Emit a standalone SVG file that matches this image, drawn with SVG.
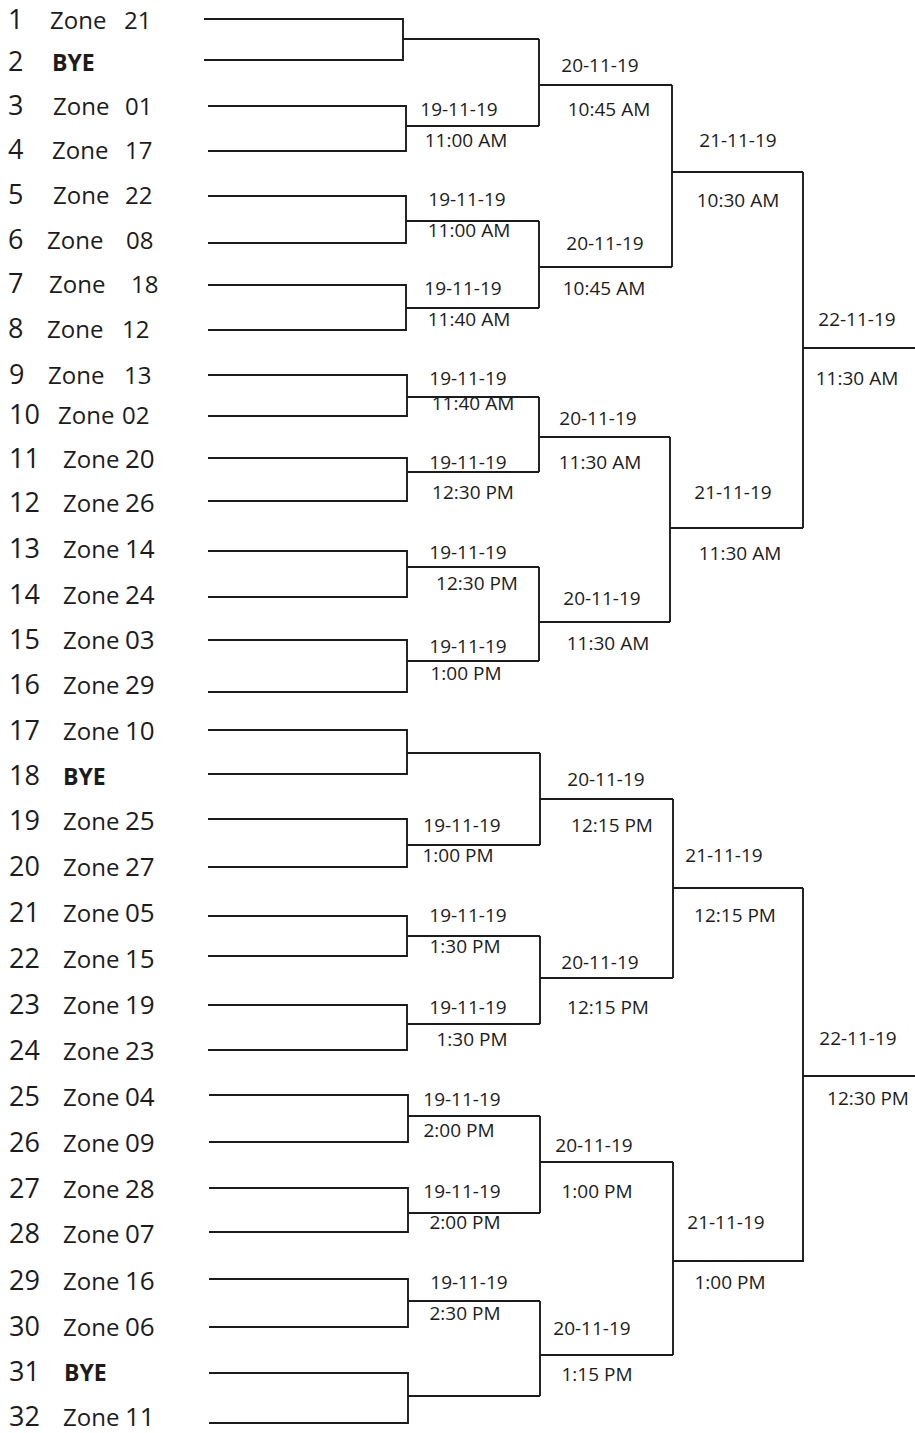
<svg xmlns="http://www.w3.org/2000/svg" width="915" height="1433" viewBox="0 0 915 1433">
<style>
.num{font-family:"Open Sans","Noto Sans",sans-serif;font-size:27px;fill:#1c1c1c}
.zn{font-family:"Open Sans","Noto Sans",sans-serif;font-size:24px;fill:#1c1c1c}
.zb{font-size:26px}
.bye{font-family:"Open Sans","Noto Sans",sans-serif;font-size:23px;font-weight:bold;fill:#1c1c1c}
.lb{font-family:"Open Sans","Noto Sans",sans-serif;font-size:19px;fill:#1c1c1c;text-anchor:middle}
.ln{fill:none;stroke:#1c1c1c;stroke-width:1.9}
</style>
<rect width="915" height="1433" fill="#ffffff"/>
<g id="teams">
<g id="team-1"><text class="num" x="8" y="29">1</text><text class="zn" y="29"><tspan x="50">Zone</tspan><tspan x="124">21</tspan></text></g>
<g id="team-2"><text class="num" x="8" y="71">2</text><text class="bye" x="52" y="71">BYE</text></g>
<g id="team-3"><text class="num" x="8" y="115">3</text><text class="zn" y="115"><tspan x="53">Zone</tspan><tspan x="125">01</tspan></text></g>
<g id="team-4"><text class="num" x="8" y="159">4</text><text class="zn" y="159"><tspan x="52">Zone</tspan><tspan x="125">17</tspan></text></g>
<g id="team-5"><text class="num" x="8" y="204">5</text><text class="zn" y="204"><tspan x="53">Zone</tspan><tspan x="125">22</tspan></text></g>
<g id="team-6"><text class="num" x="8" y="249">6</text><text class="zn" y="249"><tspan x="47">Zone</tspan><tspan x="126">08</tspan></text></g>
<g id="team-7"><text class="num" x="8" y="293">7</text><text class="zn" y="293"><tspan x="49">Zone</tspan><tspan x="131">18</tspan></text></g>
<g id="team-8"><text class="num" x="8" y="338">8</text><text class="zn" y="338"><tspan x="47">Zone</tspan><tspan x="122">12</tspan></text></g>
<g id="team-9"><text class="num" x="9" y="384">9</text><text class="zn" y="384"><tspan x="48">Zone</tspan><tspan x="124">13</tspan></text></g>
<g id="team-10"><text class="num" x="9" y="424">10</text><text class="zn" y="424"><tspan x="58">Zone</tspan><tspan x="122">02</tspan></text></g>
<g id="team-11"><text class="num" x="9" y="468">11</text><text class="zn" y="468"><tspan x="63">Zone</tspan><tspan class="zb" x="125">20</tspan></text></g>
<g id="team-12"><text class="num" x="9" y="512">12</text><text class="zn" y="512"><tspan x="63">Zone</tspan><tspan class="zb" x="125">26</tspan></text></g>
<g id="team-13"><text class="num" x="9" y="558">13</text><text class="zn" y="558"><tspan x="63">Zone</tspan><tspan class="zb" x="125">14</tspan></text></g>
<g id="team-14"><text class="num" x="9" y="604">14</text><text class="zn" y="604"><tspan x="63">Zone</tspan><tspan class="zb" x="125">24</tspan></text></g>
<g id="team-15"><text class="num" x="9" y="649">15</text><text class="zn" y="649"><tspan x="63">Zone</tspan><tspan class="zb" x="125">03</tspan></text></g>
<g id="team-16"><text class="num" x="9" y="694">16</text><text class="zn" y="694"><tspan x="63">Zone</tspan><tspan class="zb" x="125">29</tspan></text></g>
<g id="team-17"><text class="num" x="9" y="740">17</text><text class="zn" y="740"><tspan x="63">Zone</tspan><tspan class="zb" x="125">10</tspan></text></g>
<g id="team-18"><text class="num" x="9" y="785">18</text><text class="bye" x="63" y="785">BYE</text></g>
<g id="team-19"><text class="num" x="9" y="830">19</text><text class="zn" y="830"><tspan x="63">Zone</tspan><tspan class="zb" x="125">25</tspan></text></g>
<g id="team-20"><text class="num" x="9" y="876">20</text><text class="zn" y="876"><tspan x="63">Zone</tspan><tspan class="zb" x="125">27</tspan></text></g>
<g id="team-21"><text class="num" x="9" y="922">21</text><text class="zn" y="922"><tspan x="63">Zone</tspan><tspan class="zb" x="125">05</tspan></text></g>
<g id="team-22"><text class="num" x="9" y="968">22</text><text class="zn" y="968"><tspan x="63">Zone</tspan><tspan class="zb" x="125">15</tspan></text></g>
<g id="team-23"><text class="num" x="9" y="1014">23</text><text class="zn" y="1014"><tspan x="63">Zone</tspan><tspan class="zb" x="125">19</tspan></text></g>
<g id="team-24"><text class="num" x="9" y="1060">24</text><text class="zn" y="1060"><tspan x="63">Zone</tspan><tspan class="zb" x="125">23</tspan></text></g>
<g id="team-25"><text class="num" x="9" y="1106">25</text><text class="zn" y="1106"><tspan x="63">Zone</tspan><tspan class="zb" x="125">04</tspan></text></g>
<g id="team-26"><text class="num" x="9" y="1152">26</text><text class="zn" y="1152"><tspan x="63">Zone</tspan><tspan class="zb" x="125">09</tspan></text></g>
<g id="team-27"><text class="num" x="9" y="1198">27</text><text class="zn" y="1198"><tspan x="63">Zone</tspan><tspan class="zb" x="125">28</tspan></text></g>
<g id="team-28"><text class="num" x="9" y="1243">28</text><text class="zn" y="1243"><tspan x="63">Zone</tspan><tspan class="zb" x="125">07</tspan></text></g>
<g id="team-29"><text class="num" x="9" y="1290">29</text><text class="zn" y="1290"><tspan x="63">Zone</tspan><tspan class="zb" x="125">16</tspan></text></g>
<g id="team-30"><text class="num" x="9" y="1336">30</text><text class="zn" y="1336"><tspan x="63">Zone</tspan><tspan class="zb" x="125">06</tspan></text></g>
<g id="team-31"><text class="num" x="9" y="1381">31</text><text class="bye" x="64" y="1381">BYE</text></g>
<g id="team-32"><text class="num" x="9" y="1426">32</text><text class="zn" y="1426"><tspan x="63">Zone</tspan><tspan class="zb" x="125">11</tspan></text></g>
</g>
<g id="connectors">
<path class="ln" d="M204 19H403V60H204M403 39H539"/>
<path class="ln" d="M208 106H406V151H208M406 126H539"/>
<path class="ln" d="M208 196H406V243H208M406 221H539"/>
<path class="ln" d="M208 285H406V330H208M406 308H539"/>
<path class="ln" d="M208 375H407V416H208M407 397H539"/>
<path class="ln" d="M208 458H407V501H208M407 472H539"/>
<path class="ln" d="M208 551H407V597H208M407 567H539"/>
<path class="ln" d="M208 640H407V692H208M407 661H539"/>
<path class="ln" d="M208 730H407V774H208M407 753H540"/>
<path class="ln" d="M208 819H407V867H208M407 845H540"/>
<path class="ln" d="M208 916H407V956H208M407 936H540"/>
<path class="ln" d="M208 1005H407V1050H208M407 1024H540"/>
<path class="ln" d="M209 1095H408V1142H209M408 1116H540"/>
<path class="ln" d="M209 1188H408V1232H209M408 1213H540"/>
<path class="ln" d="M209 1279H408V1327H209M408 1301H540"/>
<path class="ln" d="M209 1373H408V1423H209M408 1396H540"/>
<path class="ln" d="M539 39V126M539 85H672"/>
<path class="ln" d="M539 221V308M539 267H672"/>
<path class="ln" d="M539 397V472M539 437H670"/>
<path class="ln" d="M539 567V661M539 622H670"/>
<path class="ln" d="M540 753V845M540 799H673"/>
<path class="ln" d="M540 936V1024M540 978H673"/>
<path class="ln" d="M540 1116V1213M540 1162H673"/>
<path class="ln" d="M540 1301V1396M540 1355H673"/>
<path class="ln" d="M672 85V267M672 172H803"/>
<path class="ln" d="M670 437V622M670 528H803"/>
<path class="ln" d="M673 799V978M673 888H803"/>
<path class="ln" d="M673 1162V1355M673 1261H804"/>
<path class="ln" d="M803 172V528M803 348H915"/>
<path class="ln" d="M803 888V1261M803 1076H915"/>
</g>
<g id="labels-r1">
<g id="m3-4"><text class="lb" x="459" y="116">19-11-19</text><text class="lb" x="466" y="147">11:00 AM</text></g>
<g id="m5-6"><text class="lb" x="467" y="206">19-11-19</text><text class="lb" x="469" y="237">11:00 AM</text></g>
<g id="m7-8"><text class="lb" x="463" y="295">19-11-19</text><text class="lb" x="469" y="326">11:40 AM</text></g>
<g id="m9-10"><text class="lb" x="468" y="385">19-11-19</text><text class="lb" x="473" y="410">11:40 AM</text></g>
<g id="m11-12"><text class="lb" x="468" y="469">19-11-19</text><text class="lb" x="473" y="499">12:30 PM</text></g>
<g id="m13-14"><text class="lb" x="468" y="559">19-11-19</text><text class="lb" x="477" y="590">12:30 PM</text></g>
<g id="m15-16"><text class="lb" x="468" y="653">19-11-19</text><text class="lb" x="466" y="680">1:00 PM</text></g>
<g id="m19-20"><text class="lb" x="462" y="832">19-11-19</text><text class="lb" x="458" y="862">1:00 PM</text></g>
<g id="m21-22"><text class="lb" x="468" y="922">19-11-19</text><text class="lb" x="465" y="953">1:30 PM</text></g>
<g id="m23-24"><text class="lb" x="468" y="1014">19-11-19</text><text class="lb" x="472" y="1046">1:30 PM</text></g>
<g id="m25-26"><text class="lb" x="462" y="1106">19-11-19</text><text class="lb" x="459" y="1137">2:00 PM</text></g>
<g id="m27-28"><text class="lb" x="462" y="1198">19-11-19</text><text class="lb" x="465" y="1229">2:00 PM</text></g>
<g id="m29-30"><text class="lb" x="469" y="1289">19-11-19</text><text class="lb" x="465" y="1320">2:30 PM</text></g>
</g>
<g id="labels-r2">
<g id="q1"><text class="lb" x="600" y="72">20-11-19</text><text class="lb" x="609" y="116">10:45 AM</text></g>
<g id="q2"><text class="lb" x="605" y="250">20-11-19</text><text class="lb" x="604" y="295">10:45 AM</text></g>
<g id="q3"><text class="lb" x="598" y="425">20-11-19</text><text class="lb" x="600" y="469">11:30 AM</text></g>
<g id="q4"><text class="lb" x="602" y="605">20-11-19</text><text class="lb" x="608" y="650">11:30 AM</text></g>
<g id="q5"><text class="lb" x="606" y="786">20-11-19</text><text class="lb" x="612" y="832">12:15 PM</text></g>
<g id="q6"><text class="lb" x="600" y="969">20-11-19</text><text class="lb" x="608" y="1014">12:15 PM</text></g>
<g id="q7"><text class="lb" x="594" y="1152">20-11-19</text><text class="lb" x="597" y="1198">1:00 PM</text></g>
<g id="q8"><text class="lb" x="592" y="1335">20-11-19</text><text class="lb" x="597" y="1381">1:15 PM</text></g>
</g>
<g id="labels-r3">
<g id="s1"><text class="lb" x="738" y="147">21-11-19</text><text class="lb" x="738" y="207">10:30 AM</text></g>
<g id="s2"><text class="lb" x="733" y="499">21-11-19</text><text class="lb" x="740" y="560">11:30 AM</text></g>
<g id="s3"><text class="lb" x="724" y="862">21-11-19</text><text class="lb" x="735" y="922">12:15 PM</text></g>
<g id="s4"><text class="lb" x="726" y="1229">21-11-19</text><text class="lb" x="730" y="1289">1:00 PM</text></g>
</g>
<g id="labels-final">
<g id="f1"><text class="lb" x="857" y="326">22-11-19</text><text class="lb" x="857" y="385">11:30 AM</text></g>
<g id="f2"><text class="lb" x="858" y="1045">22-11-19</text><text class="lb" x="868" y="1105">12:30 PM</text></g>
</g>
</svg>
